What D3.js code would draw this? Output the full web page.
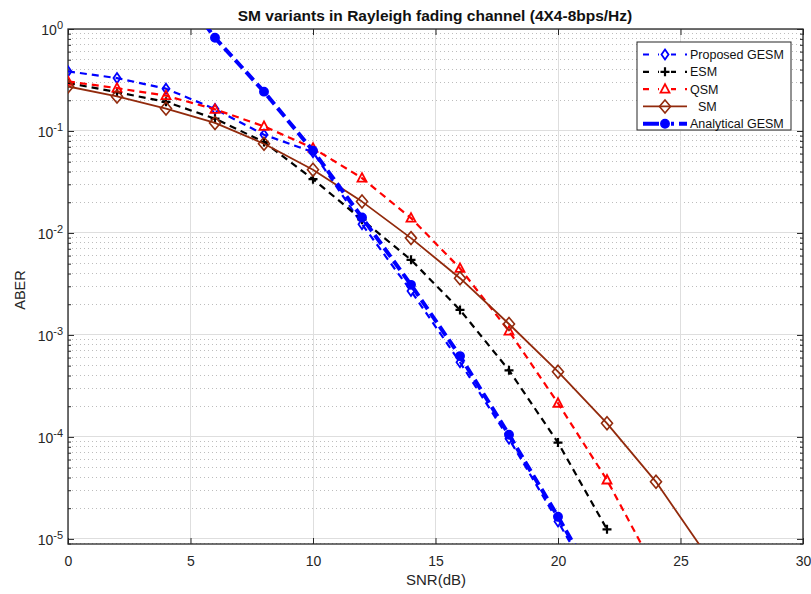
<!DOCTYPE html>
<html><head><meta charset="utf-8">
<script src="https://cdn.jsdelivr.net/npm/d3@7"></script>
<style>
body{margin:0;background:#fff;}
text{font-family:"Liberation Sans",Arial,sans-serif;}
</style></head>
<body><svg id="c" width="811" height="594"></svg>
<script>
// ---- data ----
const title = "SM variants in Rayleigh fading channel (4X4-8bps/Hz)";
const xLabel = "SNR(dB)";
const yLabel = "ABER";
const xTicks = [0, 5, 10, 15, 20, 25, 30];
const yTickExps = [0, -1, -2, -3, -4, -5];

const snrProposed = [0, 2, 4, 6, 8, 10, 12, 14, 16, 18, 20, 22];
const proposedGESM = [0.384, 0.33, 0.26, 0.164, 0.092, 0.062, 0.0122, 0.0027, 5.4e-4, 9.6e-5, 1.48e-5, 2.2e-6];

const snrESM = [0, 2, 4, 6, 8, 10, 12, 14, 16, 18, 20, 22];
const esm = [0.296, 0.24, 0.193, 0.132, 0.078, 0.0337, 0.0135, 0.00545, 0.00176, 4.5e-4, 8.8e-5, 1.24e-5];

const snrQSM = [0, 2, 4, 6, 8, 10, 12, 14, 16, 18, 20, 22, 24];
const qsm = [0.306, 0.263, 0.222, 0.163, 0.111, 0.068, 0.0345, 0.014, 0.0045, 0.00109, 2.14e-4, 3.78e-5, 4.8e-6];

const snrSM = [0, 2, 4, 6, 8, 10, 12, 14, 16, 18, 20, 22, 24, 26];
const sm = [0.273, 0.218, 0.166, 0.12, 0.075, 0.0416, 0.0203, 0.0089, 0.0036, 0.00128, 4.36e-4, 1.36e-4, 3.63e-5, 7.3e-6];

const snrAnalytical = [4, 6, 8, 10, 12, 14, 16, 18, 20, 22];
const analyticalGESM = [3.6, 0.82, 0.243, 0.064, 0.0142, 0.0031, 6.2e-4, 1.05e-4, 1.65e-5, 2.4e-6];

const seriesNames = ["Proposed GESM", "ESM", "QSM", "SM", "Analytical GESM"];

// ---- layout ----
const svg = d3.select("#c");
const L = 68, T = 29, R = 803, B = 544;
const x = d3.scaleLinear().domain([0, 30]).range([L, R]);
const y = d3.scaleLog().domain([Math.pow(10, -5.05), 1]).range([B, T]);

svg.append("defs").append("clipPath").attr("id", "clip")
  .append("rect").attr("x", L).attr("y", T).attr("width", R - L).attr("height", B - T);

// grid
const g = svg.append("g");
const minorY = [];
for (let e = -6; e < 0; e++) for (let m = 2; m <= 9; m++) {
  const v = m * Math.pow(10, e);
  if (v >= y.domain()[0] && v <= 1) minorY.push(v);
}
g.selectAll(".mg").data(minorY).enter().append("line")
  .attr("x1", L).attr("x2", R).attr("y1", d => y(d)).attr("y2", d => y(d))
  .attr("stroke", "#bdbdbd").attr("stroke-width", 1).attr("stroke-dasharray", "1,3")
  .attr("shape-rendering", "crispEdges");
const majorY = yTickExps.map(e => Math.pow(10, e));
g.selectAll(".My").data(majorY).enter().append("line")
  .attr("x1", L).attr("x2", R).attr("y1", d => y(d)).attr("y2", d => y(d))
  .attr("stroke", "#dedede").attr("stroke-width", 1).attr("shape-rendering", "crispEdges");
g.selectAll(".Mx").data(xTicks).enter().append("line")
  .attr("y1", T).attr("y2", B).attr("x1", d => x(d)).attr("x2", d => x(d))
  .attr("stroke", "#dedede").attr("stroke-width", 1).attr("shape-rendering", "crispEdges");

// axes with inward ticks
const axCol = "#262626";
const xb = svg.append("g").attr("transform", `translate(0,${B})`)
  .call(d3.axisBottom(x).tickValues(xTicks).tickSize(-6).tickPadding(12).tickFormat(d3.format("d")));
const xt = svg.append("g").attr("transform", `translate(0,${T})`)
  .call(d3.axisTop(x).tickValues(xTicks).tickSize(-6).tickFormat(""));
const yl = svg.append("g").attr("transform", `translate(${L},0)`)
  .call(d3.axisLeft(y).tickValues(majorY).tickSize(-6).tickFormat(""));
const yr = svg.append("g").attr("transform", `translate(${R},0)`)
  .call(d3.axisRight(y).tickValues(majorY).tickSize(-6).tickFormat(""));
const yl2 = svg.append("g").attr("transform", `translate(${L},0)`)
  .call(d3.axisLeft(y).tickValues(minorY).tickSize(-3).tickFormat(""));
const yr2 = svg.append("g").attr("transform", `translate(${R},0)`)
  .call(d3.axisRight(y).tickValues(minorY).tickSize(-3).tickFormat(""));
[xb, xt, yl, yr, yl2, yr2].forEach(a => {
  a.select(".domain").remove();
  a.selectAll("line").attr("stroke", axCol).attr("stroke-width", 1);
  a.selectAll("text").attr("fill", "#262626").style("font-size", "14px")
    .style("font-family", '"Liberation Sans",Arial,sans-serif');
});
svg.append("rect").attr("x", L).attr("y", T).attr("width", R - L).attr("height", B - T)
  .attr("fill", "none").attr("stroke", axCol).attr("stroke-width", 1.3);

// y tick labels 10^e
yTickExps.forEach(e => {
  const t = svg.append("text").attr("x", L - 5).attr("y", y(Math.pow(10, e)) + 6)
    .attr("text-anchor", "end").attr("fill", "#262626").style("font-size", "14px");
  t.append("tspan").text("10");
  t.append("tspan").attr("dy", -6).style("font-size", "11px").text(String(e));
});

// labels
svg.append("text").attr("x", 435).attr("y", 21).attr("text-anchor", "middle")
  .style("font-weight", "bold").style("font-size", "15.5px").attr("fill", "#111").text(title);
svg.append("text").attr("x", 436).attr("y", 585).attr("text-anchor", "middle")
  .style("font-size", "15px").attr("fill", "#262626").text(xLabel);
svg.append("text").attr("transform", "translate(25,290) rotate(-90)").attr("text-anchor", "middle")
  .style("font-size", "14.5px").attr("fill", "#262626").text(yLabel);

// marker shapes
function marker(sel, type, color) {
  if (type === "thinDiamond") {
    sel.append("path").attr("d", "M0,-5L3.5,0L0,5L-3.5,0Z").attr("fill", "none")
      .attr("stroke", color).attr("stroke-width", 1.8);
  } else if (type === "plus") {
    sel.append("path").attr("d", "M-4.5,0H4.5M0,-4.5V4.5").attr("stroke", color).attr("stroke-width", 2.2);
  } else if (type === "triangle") {
    sel.append("path").attr("d", "M0,-5L4.5,3.5L-4.5,3.5Z").attr("fill", "none")
      .attr("stroke", color).attr("stroke-width", 1.8);
  } else if (type === "diamond") {
    sel.append("path").attr("d", "M0,-6.5L5.5,0L0,6.5L-5.5,0Z").attr("fill", "none")
      .attr("stroke", color).attr("stroke-width", 1.6);
  } else if (type === "circle") {
    sel.append("circle").attr("r", 4.2).attr("fill", color).attr("stroke", color).attr("stroke-width", 1.5);
  }
}

const brown = "#922a0c";
const series = [
  {name: seriesNames[0], xs: snrProposed, ys: proposedGESM, color: "#0000ff", width: 2.2, dash: "7,5", m: "thinDiamond"},
  {name: seriesNames[1], xs: snrESM, ys: esm, color: "#000000", width: 2.2, dash: "7,5", m: "plus"},
  {name: seriesNames[2], xs: snrQSM, ys: qsm, color: "#ff0000", width: 2.2, dash: "7,5", m: "triangle"},
  {name: seriesNames[3], xs: snrSM, ys: sm, color: brown, width: 1.8, dash: null, m: "diamond"},
  {name: seriesNames[4], xs: snrAnalytical, ys: analyticalGESM, color: "#0000ff", width: 4, dash: "11,5", m: "circle"}
];

const plot = svg.append("g").attr("clip-path", "url(#clip)");
const line = d3.line().x(d => x(d[0])).y(d => y(d[1]));
series.forEach(s => {
  const pts = s.xs.map((v, i) => [v, s.ys[i]]);
  plot.append("path").datum(pts).attr("d", line).attr("fill", "none")
    .attr("stroke", s.color).attr("stroke-width", s.width)
    .attr("stroke-dasharray", s.dash).attr("stroke-linejoin", "round");
  pts.forEach(p => {
    const gg = plot.append("g").attr("transform", `translate(${x(p[0])},${y(p[1])})`);
    marker(gg, s.m, s.color);
  });
});

// legend
const lg = svg.append("g");
lg.append("rect").attr("x", 637).attr("y", 42).attr("width", 154).attr("height", 88)
  .attr("fill", "#fff").attr("stroke", axCol).attr("stroke-width", 1);
series.forEach((s, i) => {
  const yy = 54.5 + i * 17.3;
  lg.append("line").attr("x1", 643).attr("x2", 687).attr("y1", yy).attr("y2", yy)
    .attr("stroke", s.color).attr("stroke-width", s.width)
    .attr("stroke-dasharray", s.dash ? (s.m === "circle" ? "20,5,6,5" : "6,9,6,6,6,9") : null);
  const mg = lg.append("g").attr("transform", `translate(665,${yy})`);
  if (s.dash) mg.append("rect").attr("x", -6).attr("y", -3).attr("width", 12).attr("height", 6).attr("fill", "#fff");
  marker(mg, s.m, s.color);
  lg.append("text").attr("x", s.m === "diamond" ? 698 : 690).attr("y", yy + 4.5)
    .style("font-size", "12.5px").attr("fill", "#111").text(s.name);
});
</script></body></html>
